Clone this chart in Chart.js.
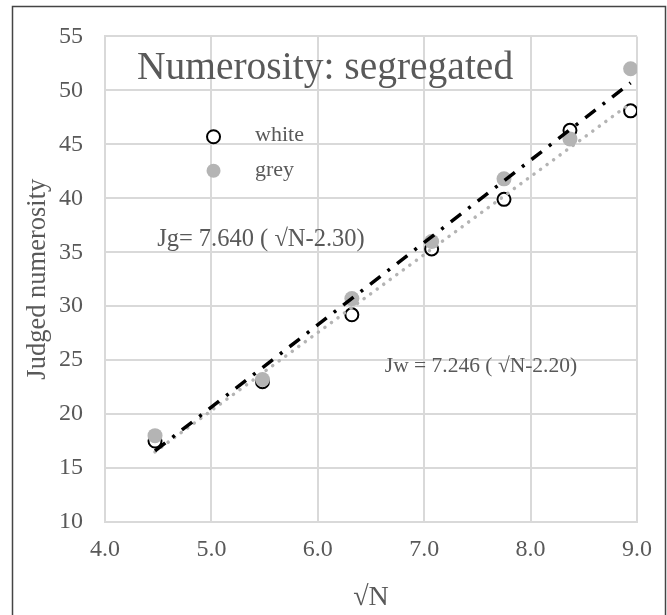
<!DOCTYPE html>
<html lang="en">
<head>
  <meta charset="UTF-8">
  <title>Numerosity: segregated</title>
  <style>
    body { margin: 0; background: #fff; }
    #wrap { position: relative; width: 667px; height: 615px; }
  </style>
  <script src="https://cdn.jsdelivr.net/npm/chart.js"></script>
</head>
<body>
  <div id="wrap"><canvas id="chart"></canvas></div>

  <script>
    // sqrt(N) values and judged numerosity per condition
    const sqrtN = [4.47, 5.48, 6.32, 7.07, 7.75, 8.37, 8.94];
    const whiteVals = [17.5, 23.0, 29.2, 35.3, 39.9, 46.3, 48.1];
    const greyVals = [18.0, 23.2, 30.7, 36.0, 41.8, 45.5, 52.0];

    // fitted lines, end points only
    const fitX = [4.47, 8.94];
    const fitGrey = [16.6, 50.7];   // Jg, black dash-dot
    const fitWhite = [16.5, 48.8];  // Jw, grey dotted

    const xTicks = [4, 5, 6, 7, 8, 9];
    const yTicks = [10, 15, 20, 25, 30, 35, 40, 45, 50, 55];

    const TXT = '#595959';
    const SERIF = '"Liberation Serif", "DejaVu Serif", serif';

    const pts = (xs, ys) => xs.map((x, i) => ({ x: x, y: ys[i] }));

    // title, legend and equations sit inside the plot area
    const overlay = {
      id: 'overlay',
      afterDatasetsDraw(chart) {
        const c = chart.ctx;
        const xs = chart.scales.x, ys = chart.scales.y;
        const X = v => xs.getPixelForValue(v), Y = v => ys.getPixelForValue(v);
        c.save();
        c.fillStyle = TXT;
        c.textBaseline = 'middle';
        c.textAlign = 'left';
        c.font = '39.5px ' + SERIF;
        c.fillText('Numerosity: segregated', X(4.30), Y(52.0));

        // legend
        c.lineWidth = 2;
        c.strokeStyle = '#000';
        c.fillStyle = '#fff';
        c.beginPath(); c.arc(X(5.02), Y(45.7), 6.5, 0, Math.PI * 2); c.fill(); c.stroke();
        c.fillStyle = '#b4b4b4';
        c.beginPath(); c.arc(X(5.02), Y(42.55), 7, 0, Math.PI * 2); c.fill();
        c.fillStyle = TXT;
        c.font = '22px ' + SERIF;
        c.fillText('white', X(5.41), Y(45.8));
        c.fillText('grey', X(5.41), Y(42.6));

        c.font = '24.5px ' + SERIF;
        c.fillText('Jg= 7.640 ( \u221AN-2.30)', X(4.49), Y(36.2));
        c.font = '21.5px ' + SERIF;
        c.fillText('Jw = 7.246 ( \u221AN-2.20)', X(6.63), Y(24.4));

        // outer frame
        c.strokeStyle = '#444';
        c.lineWidth = 1.5;
        c.strokeRect(12.5, 6.5, 653, 700);
        c.restore();
      }
    };

    new Chart(document.getElementById('chart'), {
      type: 'scatter',
      data: {
        datasets: [
          {
            type: 'line', label: 'Jg', data: pts(fitX, fitGrey), order: 0,
            borderColor: '#000', borderWidth: 3.5, borderDash: [13, 9, 3, 9],
            borderCapStyle: 'butt', pointRadius: 0, fill: false
          },
          {
            type: 'line', label: 'Jw', data: pts(fitX, fitWhite), order: 1,
            borderColor: '#b4b4b4', borderWidth: 3.5, borderDash: [0.1, 8],
            borderCapStyle: 'round', pointRadius: 0, fill: false
          },
          {
            label: 'grey', data: pts(sqrtN, greyVals), order: 2,
            pointRadius: 7.5, backgroundColor: '#b4b4b4', borderColor: '#b4b4b4', borderWidth: 0
          },
          {
            label: 'white', data: pts(sqrtN, whiteVals), order: 3,
            pointRadius: 6.5, backgroundColor: '#fff', borderColor: '#000', borderWidth: 2
          }
        ]
      },
      options: {
        responsive: true,
        maintainAspectRatio: false,
        animation: false,
        layout: { padding: { top: 35, right: 30, left: 0, bottom: 0 } },
        plugins: { legend: { display: false }, tooltip: { enabled: false } },
        scales: {
          x: {
            type: 'linear', min: 4, max: 9,
            afterBuildTicks: s => { s.ticks = xTicks.map(v => ({ value: v })); },
            afterFit: s => { s.height = 93; },
            grid: { color: '#d9d9d9', lineWidth: 2, drawTicks: false },
            border: { color: '#d9d9d9', width: 2 },
            ticks: { color: TXT, font: { family: SERIF, size: 24 }, padding: 13,
                     callback: v => Number(v).toFixed(1) },
            title: { display: true, text: '\u221AN', color: TXT,
                     font: { family: SERIF, size: 28 }, padding: { top: 0, bottom: 1 } }
          },
          y: {
            type: 'linear', min: 10, max: 55,
            afterBuildTicks: s => { s.ticks = yTicks.map(v => ({ value: v })); },
            afterFit: s => { s.width = 105; },
            grid: { color: '#d9d9d9', lineWidth: 2, drawTicks: false },
            border: { color: '#d9d9d9', width: 2 },
            ticks: { color: TXT, font: { family: SERIF, size: 24 }, padding: 22 },
            title: { display: true, text: 'Judged numerosity', color: TXT,
                     font: { family: SERIF, size: 26.5 }, padding: { top: 22, bottom: 0 } }
          }
        }
      },
      plugins: [overlay]
    });
  </script>
</body>
</html>
